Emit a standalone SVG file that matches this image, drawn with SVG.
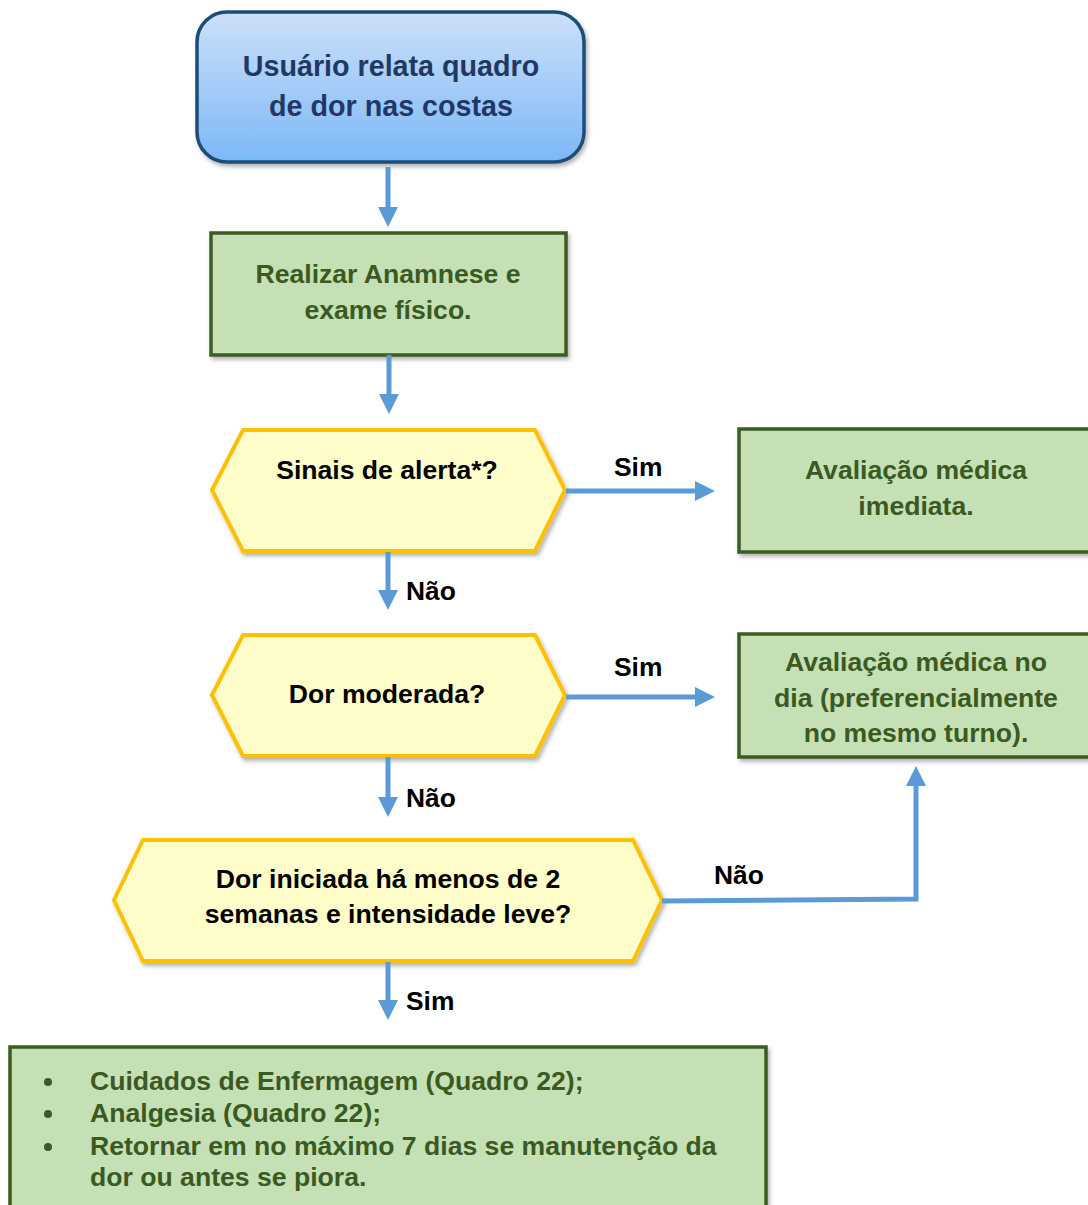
<svg xmlns="http://www.w3.org/2000/svg" width="1088" height="1205" viewBox="0 0 1088 1205">
  <defs>
    <linearGradient id="startFill" x1="0" y1="0" x2="0" y2="1">
      <stop offset="0" stop-color="#CCE0F8"/>
      <stop offset="1" stop-color="#7CB8F7"/>
    </linearGradient>
    <filter id="shadow" x="-10%" y="-10%" width="120%" height="130%">
      <feDropShadow dx="2" dy="3" stdDeviation="2" flood-color="#000" flood-opacity="0.3"/>
    </filter>
    <marker id="head" markerUnits="userSpaceOnUse" markerWidth="20" markerHeight="20" refX="0" refY="10" orient="auto">
      <path d="M0,0 L20,10 L0,20 z" fill="#5B9BD5"/>
    </marker>
    <style>
      text { font-family: "Liberation Sans", Arial, sans-serif; font-weight: bold; text-anchor: middle; }
      .start { fill: url(#startFill); stroke: #1F4E79; stroke-width: 3.5; filter: url(#shadow); }
      .startText { font-size: 28.7px; fill: #1F3864; }
      .action { fill: #C5E0B4; stroke: #3B5B22; stroke-width: 3.5; filter: url(#shadow); }
      .actionText { font-size: 26.6px; fill: #3A5A22; }
      .decision { fill: #FFFDCA; stroke: #FFC000; stroke-width: 4; stroke-linejoin: miter; filter: url(#shadow); }
      .decisionText { font-size: 26.6px; fill: #000; }
      .edge { fill: none; stroke: #5B9BD5; stroke-width: 5; marker-end: url(#head); }
      .edgeLabel { font-size: 26.4px; fill: #000; text-anchor: start; }
      .bulletText { text-anchor: start; }
    </style>
  </defs>

  <!-- Start -->
  <g id="start">
    <rect class="start" x="197" y="12" width="387" height="150" rx="30" ry="30"/>
    <text class="startText" x="391" y="76">Usuário relata quadro</text>
    <text class="startText" x="391" y="116">de dor nas costas</text>
  </g>

  <!-- Anamnesis -->
  <g id="anamnese">
    <rect class="action" x="211" y="233" width="355" height="122"/>
    <text class="actionText" x="388" y="283">Realizar Anamnese e</text>
    <text class="actionText" x="388" y="319">exame físico.</text>
  </g>

  <!-- Decision: warning signs -->
  <g id="sinais-alerta">
    <polygon class="decision" points="212,490 243,430 535,430 565,490 535,551 243,551"/>
    <text class="decisionText" x="387" y="479">Sinais de alerta*?</text>
  </g>

  <!-- Immediate medical evaluation -->
  <g id="avaliacao-imediata">
    <rect class="action" x="739" y="429" width="365" height="123"/>
    <text class="actionText" x="916" y="479">Avaliação médica</text>
    <text class="actionText" x="916" y="515">imediata.</text>
  </g>

  <!-- Decision: moderate pain -->
  <g id="dor-moderada">
    <polygon class="decision" points="212,695 243,635 535,635 565,695 535,756 243,756"/>
    <text class="decisionText" x="387" y="703">Dor moderada?</text>
  </g>

  <!-- Same-day medical evaluation -->
  <g id="avaliacao-dia">
    <rect class="action" x="739" y="634" width="365" height="123"/>
    <text class="actionText" x="916" y="671">Avaliação médica no</text>
    <text class="actionText" x="916" y="707">dia (preferencialmente</text>
    <text class="actionText" x="916" y="742">no mesmo turno).</text>
  </g>

  <!-- Decision: recent mild pain -->
  <g id="dor-leve">
    <polygon class="decision" points="114,900 143,840 633,840 662,900 633,961 143,961"/>
    <text class="decisionText" x="388" y="888">Dor iniciada há menos de 2</text>
    <text class="decisionText" x="388" y="923">semanas e intensidade leve?</text>
  </g>

  <!-- Nursing care -->
  <g id="cuidados">
    <rect class="action" x="10" y="1047" width="756" height="175"/>
    <g fill="#3A5A22">
      <circle cx="48" cy="1082" r="4"/>
      <circle cx="48" cy="1114" r="4"/>
      <circle cx="48" cy="1147" r="4"/>
    </g>
    <text class="actionText bulletText" x="90" y="1090">Cuidados de Enfermagem (Quadro 22);</text>
    <text class="actionText bulletText" x="90" y="1122">Analgesia (Quadro 22);</text>
    <text class="actionText bulletText" x="90" y="1155">Retornar em no máximo 7 dias se manutenção da</text>
    <text class="actionText bulletText" x="90" y="1186">dor ou antes se piora.</text>
  </g>

  <!-- Connectors -->
  <g id="connectors">
    <line class="edge" x1="388" y1="167" x2="388" y2="207"/>
    <line class="edge" x1="389" y1="355" x2="389" y2="394"/>
    <line class="edge" x1="566" y1="491" x2="695" y2="491"/>
    <line class="edge" x1="388" y1="552" x2="388" y2="590"/>
    <line class="edge" x1="566" y1="697" x2="695" y2="697"/>
    <line class="edge" x1="388" y1="757" x2="388" y2="797"/>
    <polyline class="edge" points="662,901 916,899 916,786"/>
    <line class="edge" x1="388" y1="962" x2="388" y2="1000"/>
    <text class="edgeLabel" x="614" y="476">Sim</text>
    <text class="edgeLabel" x="406" y="600">Não</text>
    <text class="edgeLabel" x="614" y="676">Sim</text>
    <text class="edgeLabel" x="406" y="807">Não</text>
    <text class="edgeLabel" x="714" y="884">Não</text>
    <text class="edgeLabel" x="406" y="1010">Sim</text>
  </g>
</svg>
